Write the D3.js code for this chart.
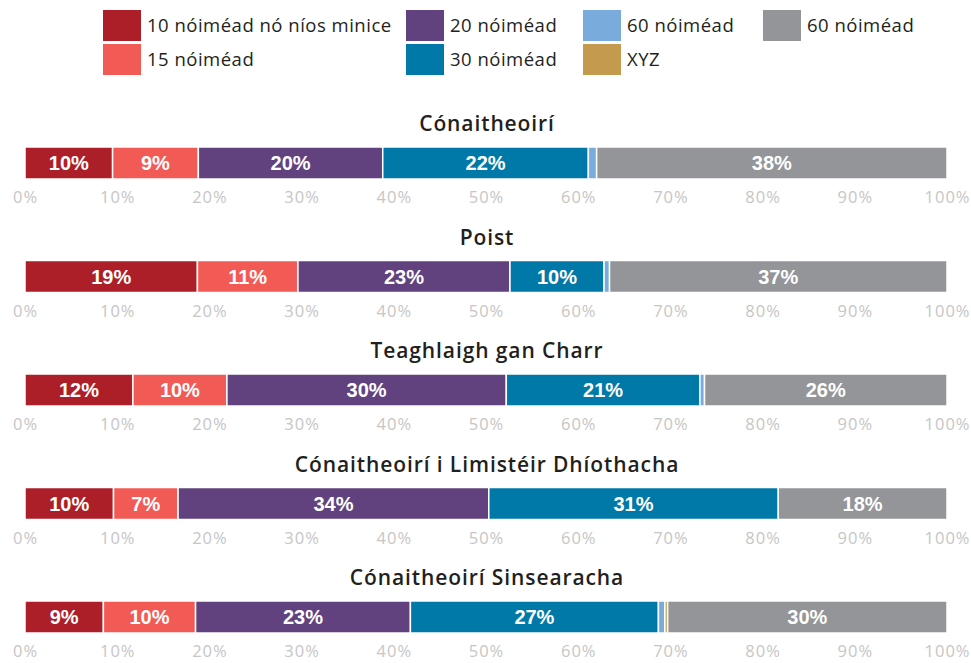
<!DOCTYPE html>
<html>
<head>
<meta charset="utf-8">
<script src="https://cdn.jsdelivr.net/npm/d3@7"></script>
<style>
  html, body { margin: 0; padding: 0; background: #fff; }
  svg { display: block; }
</style>
</head>
<body>
<svg id="chart" width="971" height="663"></svg>
<script>
const categories = ["Cónaitheoirí", "Poist", "Teaghlaigh gan Charr", "Cónaitheoirí i Limistéir Dhíothacha", "Cónaitheoirí Sinsearacha"];
const seriesNames = ["10 nóiméad nó níos minice", "15 nóiméad", "20 nóiméad", "30 nóiméad", "60 nóiméad", "XYZ", "60 nóiméad"];
const s10  = [9.5, 18.7, 11.7, 9.6, 8.5];
const s15  = [9.3, 10.9, 10.2, 7.0, 10.0];
const s20  = [20.0, 23.0, 30.3, 33.7, 23.3];
const s30  = [22.3, 10.2, 21.0, 31.4, 26.9];
const s60a = [0.9, 0.6, 0.5, 0.0, 0.7];
const sXYZ = [0.0, 0.0, 0.0, 0.0, 0.3];
const s60b = [38.0, 36.6, 26.3, 18.3, 30.3];
const tickValues = [0, 10, 20, 30, 40, 50, 60, 70, 80, 90, 100];

const colors = ["#ad1f28", "#f25a55", "#62427e", "#0079a8", "#7aabdd", "#c49a4f", "#939598"];
const seriesData = [s10, s15, s20, s30, s60a, sXYZ, s60b];

const keys = seriesNames.map((n, i) => "k" + i);
const table = categories.map((c, ci) => {
  const row = { category: c };
  keys.forEach((k, si) => row[k] = seriesData[si][ci]);
  return row;
});
const stacked = d3.stack().keys(keys)(table);

const svg = d3.select("#chart");
const x = d3.scaleLinear().domain([0, 100]).range([25, 947]);
const rowY = d3.scaleBand().domain(categories).range([110, 110 + 113.5 * 5]);

const mainFont = "'Open Sans', 'DejaVu Sans', sans-serif";

// Legend (column-wise, 2 rows)
const legendCols = [103, 406, 583, 763];
const legend = svg.append("g");
seriesNames.forEach((name, i) => {
  const col = Math.floor(i / 2), r = i % 2;
  const g = legend.append("g").attr("transform", `translate(${legendCols[col]},${10 + r * 34})`);
  g.append("rect").attr("width", 38).attr("height", 31).attr("fill", colors[i]);
  g.append("text").attr("x", 44).attr("y", 16).attr("dy", "0.35em")
    .attr("font-family", mainFont).attr("font-size", 18.5).attr("letter-spacing", 0.5)
    .attr("fill", "#231f20")
    .text(name);
});

// Rows
categories.forEach((cat, ci) => {
  const top = rowY(cat);
  const g = svg.append("g");
  g.append("text").attr("x", 487).attr("y", top + 14).attr("dy", "0.35em")
    .attr("text-anchor", "middle")
    .attr("font-family", mainFont).attr("font-size", 21).attr("font-weight", 600)
    .attr("letter-spacing", 0.9)
    .attr("fill", "#231f20").text(cat);

  const barTop = top + 37, barH = 32;
  stacked.forEach((layer, si) => {
    const d = layer[ci];
    const w = x(d[1]) - x(d[0]);
    if (w <= 0) return;
    g.append("rect")
      .attr("x", x(d[0])).attr("y", barTop)
      .attr("width", w).attr("height", barH)
      .attr("fill", colors[si]).attr("stroke", "#fff").attr("stroke-width", 1.5);
    const v = seriesData[si][ci];
    if (v >= 3) {
      g.append("text")
        .attr("x", (x(d[0]) + x(d[1])) / 2).attr("y", barTop + barH / 2).attr("dy", "0.36em")
        .attr("text-anchor", "middle")
        .attr("font-family", "'Liberation Sans', Arial, sans-serif")
        .attr("font-weight", "bold").attr("font-size", 20).attr("fill", "#fff")
        .text(Math.round(v) + "%");
    }
  });

  const axis = d3.axisBottom(x).tickValues(tickValues).tickFormat(d => d + "%").tickSize(0).tickPadding(0);
  const ag = g.append("g").attr("transform", `translate(0,${barTop + barH + 24})`).call(axis);
  ag.select(".domain").remove();
  ag.selectAll("text")
    .attr("font-family", mainFont).attr("font-size", 16.5).attr("letter-spacing", 1)
    .attr("fill", "#c6c6c6")
    .attr("y", 0).attr("dy", 0);
});
</script>
</body>
</html>
